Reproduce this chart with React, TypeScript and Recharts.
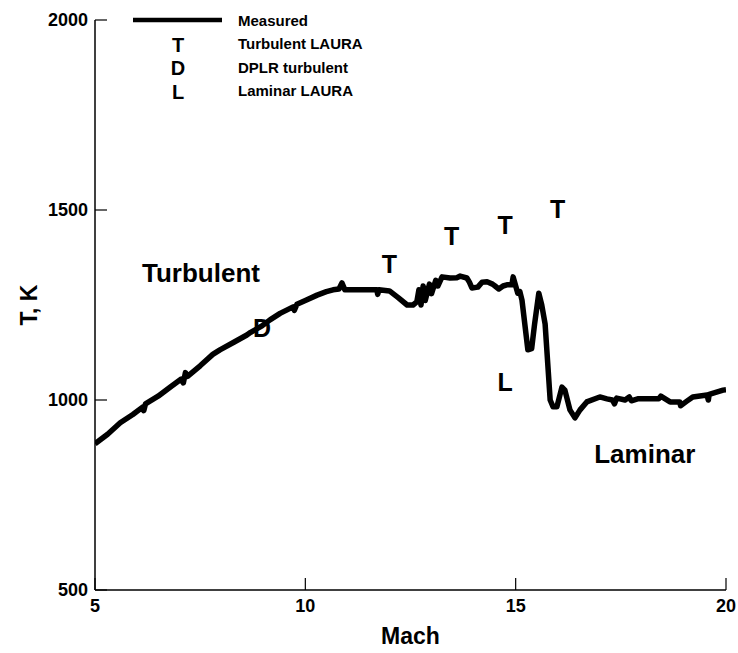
import { ComposedChart, Line, Scatter, XAxis, YAxis, Legend } from "recharts";

// measured wall temperature vs Mach
const machs = [
  5.0, 5.3, 5.6, 5.9, 6.14, 6.16, 6.2, 6.5, 6.8, 7.05, 7.1, 7.15, 7.2, 7.5, 7.8, 7.97, 8.3, 8.61, 8.7, 8.97,
  9.16, 9.4, 9.71, 9.74, 9.8, 10.0, 10.28, 10.5, 10.66, 10.8, 10.87, 10.94, 11.3, 11.7, 11.72, 11.75, 12.0, 12.2,
  12.42, 12.56, 12.65, 12.7, 12.75, 12.8, 12.85, 12.95, 13.0, 13.1, 13.15, 13.25, 13.44, 13.6, 13.68, 13.84,
  13.9, 13.96, 14.1, 14.2, 14.32, 14.45, 14.51, 14.6, 14.7, 14.79, 14.91, 14.94, 15.05, 15.1, 15.15, 15.29,
  15.38, 15.45, 15.55, 15.62, 15.7, 15.82, 15.89, 15.98, 16.1, 16.17, 16.29, 16.41, 16.53, 16.69, 17.0, 17.17,
  17.3, 17.35, 17.4, 17.6, 17.7, 17.75, 17.9, 18.4, 18.45, 18.67, 18.9, 18.92, 19.07, 19.21, 19.55, 19.58, 19.6,
  19.93, 20.0,
];
const temps = [
  885, 910, 940, 962, 982, 972, 990, 1010, 1035, 1055, 1045, 1072, 1062, 1090, 1120, 1132, 1152, 1171, 1178, 1195,
  1211, 1228, 1245, 1236, 1252, 1262, 1276, 1285, 1290, 1292, 1308, 1290, 1290, 1290, 1278, 1290, 1287, 1270,
  1250, 1250, 1258, 1290, 1250, 1300, 1262, 1305, 1280, 1315, 1300, 1324, 1321, 1322, 1326, 1321,
  1310, 1295, 1297, 1310, 1311, 1305, 1300, 1292, 1300, 1303, 1303, 1324, 1281, 1285, 1263, 1132,
  1135, 1200, 1281, 1250, 1200, 1000, 982, 982, 1034, 1026, 974, 953, 974, 995, 1008, 1003,
  1000, 990, 1005, 1000, 1008, 998, 1003, 1003, 1010, 995, 995, 985, 997, 1008, 1013, 1000, 1015,
  1026, 1027,
];

// computed points, drawn as letters
const markerLetters = ["T", "T", "T", "T", "D", "L"];
const markerMachs = [12.0, 13.48, 14.75, 16.0, 8.97, 14.75];
const markerTemps = [1357, 1431, 1460, 1503, 1190, 1047];

const regionNames = ["Turbulent", "Laminar"];
const regionMachs = [7.52, 18.07];
const regionTemps = [1335, 857];

const legendLetters = ["", "T", "D", "L"];
const legendNames = ["Measured", "Turbulent LAURA", "DPLR turbulent", "Laminar LAURA"];

const xTicks = [5, 10, 15, 20];
const yTicks = [500, 1000, 1500, 2000];

const FONT = "'Liberation Sans', Arial, Helvetica, sans-serif";

const measured = machs.map((m, i) => ({ mach: m, temp: temps[i] }));
const markers = markerLetters.map((l, i) => ({ letter: l, mach: markerMachs[i], temp: markerTemps[i] }));
const regions = regionNames.map((n, i) => ({ letter: n, mach: regionMachs[i], temp: regionTemps[i] }));

const XTick = (props: any) => {
  const { x, y, payload } = props;
  return (
    <g>
      <line x1={x} y1={y} x2={x} y2={y - 12} stroke="#000" strokeWidth={1.2} />
      <text x={x} y={y + 16} textAnchor="middle" dominantBaseline="central" fontFamily={FONT} fontWeight="bold" fontSize={18} fill="#000">
        {payload.value}
      </text>
    </g>
  );
};

const YTick = (props: any) => {
  const { x, y, payload } = props;
  return (
    <g>
      <line x1={x} y1={y} x2={x + 12} y2={y} stroke="#000" strokeWidth={1.2} />
      <text x={x - 7} y={y} textAnchor="end" dominantBaseline="central" fontFamily={FONT} fontWeight="bold" fontSize={18} fill="#000">
        {payload.value}
      </text>
    </g>
  );
};

const LetterShape = (size: number) => (props: any) => (
  <text x={props.cx} y={props.cy} textAnchor="middle" dominantBaseline="central" fontFamily={FONT} fontWeight="bold" fontSize={size} fill="#000">
    {props.payload.letter}
  </text>
);

const LegendBox = () => (
  <svg width={320} height={110}>
    <line x1={13} y1={20} x2={102} y2={20} stroke="#000" strokeWidth={4.5} />
    {legendNames.map((name, i) => (
      <g key={name}>
        <text x={58} y={21 + i * 23.5} textAnchor="middle" dominantBaseline="central" fontFamily={FONT} fontWeight="bold" fontSize={20} fill="#000">
          {legendLetters[i]}
        </text>
        <text x={118} y={20 + i * 23.5} dominantBaseline="central" fontFamily={FONT} fontWeight="bold" fontSize={15} fill="#000">
          {name}
        </text>
      </g>
    ))}
  </svg>
);

export default function App() {
  return (
    <div style={{ position: "absolute", left: 0, top: 0, background: "#fff" }}>
      <ComposedChart width={738} height={653} margin={{ top: 20, right: 12, bottom: 0, left: 0 }}>
        <XAxis
          dataKey="mach"
          type="number"
          domain={[5, 20]}
          ticks={xTicks}
          allowDataOverflow
          height={63}
          tickSize={0}
          tickMargin={0}
          tickLine={false}
          tick={<XTick />}
          axisLine={{ stroke: "#000", strokeWidth: 1.5 }}
          label={(p: any) => (
            <text x={p.viewBox.x + p.viewBox.width / 2} y={p.viewBox.y + 46} textAnchor="middle" dominantBaseline="central" fontFamily={FONT} fontWeight="bold" fontSize={23} fill="#000">
              Mach
            </text>
          )}
        />
        <YAxis
          type="number"
          domain={[500, 2000]}
          ticks={yTicks}
          allowDataOverflow
          width={95}
          tickSize={0}
          tickMargin={0}
          tickLine={false}
          tick={<YTick />}
          axisLine={{ stroke: "#000", strokeWidth: 1.5 }}
          label={(p: any) => {
            const cx = p.viewBox.x + 29;
            const cy = p.viewBox.y + p.viewBox.height / 2;
            return (
              <text x={cx} y={cy} transform={`rotate(-90, ${cx}, ${cy})`} textAnchor="middle" dominantBaseline="central" fontFamily={FONT} fontWeight="bold" fontSize={23} fill="#000">
                T, K
              </text>
            );
          }}
        />
        <Legend
          layout="vertical"
          align="center"
          verticalAlign="middle"
          content={<LegendBox />}
          wrapperStyle={{ top: 0, left: 120, width: 320, height: 110 }}
        />
        <Line data={measured} dataKey="temp" type="linear" stroke="#000" strokeWidth={5.5} strokeLinejoin="round" dot={false} isAnimationActive={false} />
        <Scatter data={markers} dataKey="temp" shape={LetterShape(25)} isAnimationActive={false} />
        <Scatter data={regions} dataKey="temp" shape={LetterShape(26)} isAnimationActive={false} />
      </ComposedChart>
    </div>
  );
}
